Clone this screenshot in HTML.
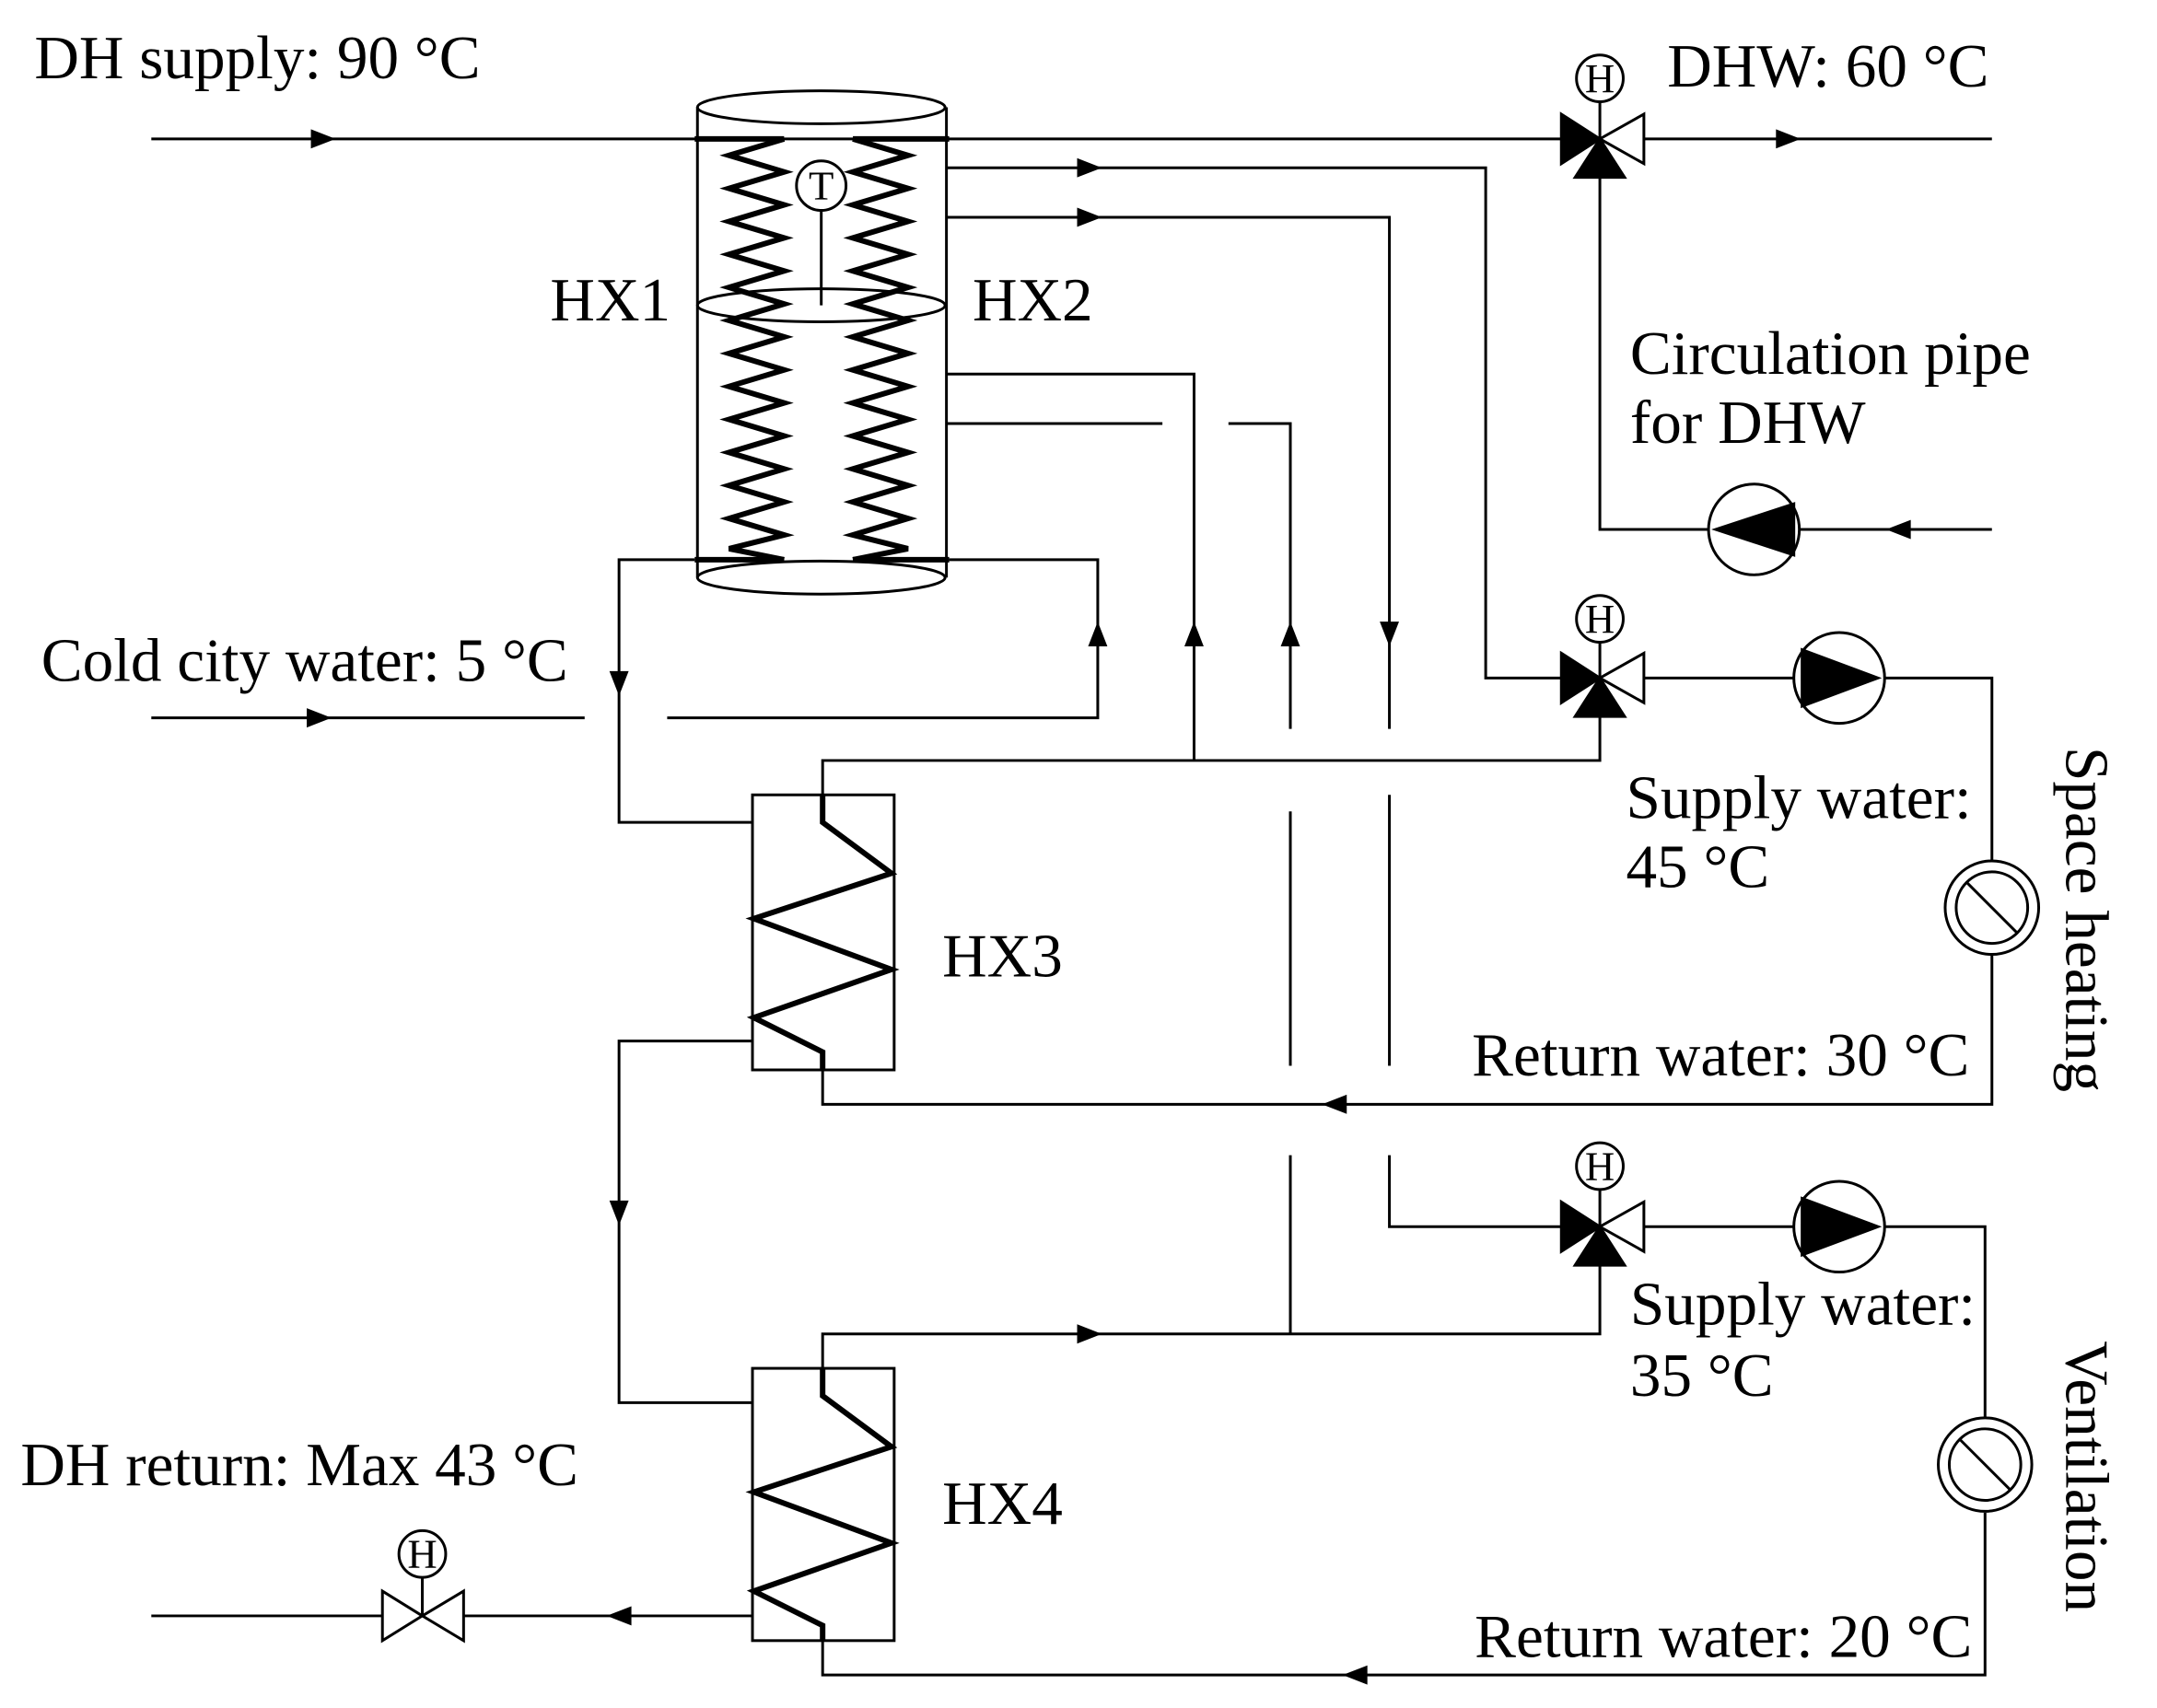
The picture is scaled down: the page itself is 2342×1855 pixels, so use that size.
<!DOCTYPE html>
<html><head><meta charset="utf-8"><style>
html,body{margin:0;padding:0;background:#fff;}
svg{display:block;}
text{font-family:"Liberation Serif",serif;font-size:45px;fill:#000;}
text.s{font-size:30px;}
</style></head><body>
<svg width="2342" height="1855" viewBox="0 0 1568 1242" preserveAspectRatio="none" xmlns="http://www.w3.org/2000/svg">
<defs>
<path id="ar" d="M-9,-7 L9,0 L-9,7 Z" fill="#000"/>
</defs>
<g stroke="#000" stroke-width="2" fill="none">
<line x1="110" y1="101" x2="1135" y2="101"/>
<line x1="1195" y1="101" x2="1448" y2="101"/>
<ellipse cx="597" cy="78" rx="90" ry="12"/>
<line x1="507" y1="78" x2="507" y2="420"/>
<line x1="688" y1="78" x2="688" y2="420"/>
<ellipse cx="597" cy="420" rx="90" ry="12"/>
<ellipse cx="597" cy="222" rx="90" ry="12"/>
<path stroke-width="4" d="M505,101 H570 M620,101 H690 M505,407 H570 M620,407 H690"/>
<path stroke-width="4" d="M570,101 L530,113 L570,125 L530,137 L570,149 L530,161 L570,173 L530,185 L570,197 L530,209 L570,221 L530,233 L570,245 L530,257 L570,269 L530,281 L570,293 L530,305 L570,317 L530,329 L570,341 L530,353 L570,365 L530,377 L570,389 L530,399 L570,407"/>
<path stroke-width="4" d="M620,101 L660,113 L620,125 L660,137 L620,149 L660,161 L620,173 L660,185 L620,197 L660,209 L620,221 L660,233 L620,245 L660,257 L620,269 L660,281 L620,293 L660,305 L620,317 L660,329 L620,341 L660,353 L620,365 L660,377 L620,389 L660,399 L620,407"/>
<circle cx="597" cy="135" r="18" fill="#fff"/>
<line x1="597" y1="153" x2="597" y2="222"/>
<polyline points="688,122 1080,122 1080,493 1135,493"/>
<polyline points="688,158 1010,158 1010,530"/>
<line x1="1010" y1="578" x2="1010" y2="775"/>
<polyline points="1010,840 1010,892 1135,892"/>
<polyline points="688,272 868,272 868,553"/>
<polyline points="598,578 598,553 1163,553 1163,512"/>
<line x1="688" y1="308" x2="845" y2="308"/>
<polyline points="893,308 938,308 938,530"/>
<line x1="938" y1="590" x2="938" y2="775"/>
<polyline points="938,840 938,970"/>
<polyline points="598,995 598,970 1163,970 1163,912"/>
<polyline points="505,407 450,407 450,598 547,598"/>
<polyline points="690,407 798,407 798,522 485,522"/>
<line x1="110" y1="522" x2="425" y2="522"/>
<rect x="547" y="578" width="103" height="200"/>
<path stroke-width="4" d="M598,578 L598,598 L648,635 L548,668 L648,705 L548,740 L598,765 L598,778"/>
<polyline points="598,778 598,803 1448,803 1448,695"/>
<polyline points="1448,626 1448,493 1370,493"/>
<line x1="1304" y1="493" x2="1195" y2="493"/>
<circle cx="1448" cy="660" r="34"/><circle cx="1448" cy="660" r="26"/>
<line x1="1430" y1="642" x2="1466" y2="678"/>
<polyline points="547,757 450,757 450,1020 547,1020"/>
<rect x="547" y="995" width="103" height="198"/>
<path stroke-width="4" d="M598,995 L598,1015 L648,1052 L548,1085 L648,1122 L548,1157 L598,1182 L598,1193"/>
<polyline points="598,1193 598,1218 1443,1218 1443,1100"/>
<polyline points="1443,1031 1443,892 1370,892"/>
<line x1="1304" y1="892" x2="1195" y2="892"/>
<circle cx="1443" cy="1065" r="34"/><circle cx="1443" cy="1065" r="26"/>
<line x1="1425" y1="1047" x2="1461" y2="1083"/>
<line x1="547" y1="1175" x2="337" y2="1175"/>
<line x1="278" y1="1175" x2="110" y2="1175"/>
<polyline points="1163,120 1163,385 1242,385"/>
<line x1="1308" y1="385" x2="1448" y2="385"/>
<circle cx="1275" cy="385" r="33"/>
<circle cx="1337" cy="493" r="33"/>
<circle cx="1337" cy="892" r="33"/>
<circle cx="1163" cy="57" r="17"/><line x1="1163" y1="74" x2="1163" y2="101"/>
<circle cx="1163" cy="450" r="17"/><line x1="1163" y1="467" x2="1163" y2="493"/>
<circle cx="1163" cy="848" r="17"/><line x1="1163" y1="865" x2="1163" y2="892"/>
<circle cx="307" cy="1130" r="17"/><line x1="307" y1="1147" x2="307" y2="1175"/>
</g>
<path d="M1244,385 L1305,365 L1305,405 Z"/>
<path d="M1368,493 L1309,471 L1309,515 Z"/>
<path d="M1368,892 L1309,870 L1309,914 Z"/>
<g stroke="#000" stroke-width="2">
<path d="M1135,83 L1163,101 L1135,119 Z" fill="#000"/><path d="M1195,83 L1163,101 L1195,119 Z" fill="#fff"/><path d="M1145,129 L1163,101 L1181,129 Z" fill="#000"/>
<path d="M1135,475 L1163,493 L1135,511 Z" fill="#000"/><path d="M1195,475 L1163,493 L1195,511 Z" fill="#fff"/><path d="M1145,521 L1163,493 L1181,521 Z" fill="#000"/>
<path d="M1135,874 L1163,892 L1135,910 Z" fill="#000"/><path d="M1195,874 L1163,892 L1195,910 Z" fill="#fff"/><path d="M1145,920 L1163,892 L1181,920 Z" fill="#000"/>
<path d="M278,1157 L307,1175 L278,1193 Z" fill="#fff"/><path d="M337,1157 L307,1175 L337,1193 Z" fill="#fff"/>
</g>
<use href="#ar" transform="translate(235,101)"/>
<use href="#ar" transform="translate(1300,101)"/>
<use href="#ar" transform="translate(792,122)"/>
<use href="#ar" transform="translate(792,158)"/>
<use href="#ar" transform="translate(1380,385) rotate(180)"/>
<use href="#ar" transform="translate(232,522)"/>
<use href="#ar" transform="translate(450,497) rotate(90)"/>
<use href="#ar" transform="translate(798,461) rotate(-90)"/>
<use href="#ar" transform="translate(868,461) rotate(-90)"/>
<use href="#ar" transform="translate(938,461) rotate(-90)"/>
<use href="#ar" transform="translate(1010,461) rotate(90)"/>
<use href="#ar" transform="translate(970,803) rotate(180)"/>
<use href="#ar" transform="translate(450,882) rotate(90)"/>
<use href="#ar" transform="translate(792,970)"/>
<use href="#ar" transform="translate(985,1218) rotate(180)"/>
<use href="#ar" transform="translate(450,1175) rotate(180)"/>
<g text-anchor="middle">
<text class="s" x="597" y="145">T</text>
<text class="s" x="1163" y="67">H</text>
<text class="s" x="1163" y="460">H</text>
<text class="s" x="1163" y="858">H</text>
<text class="s" x="307" y="1140">H</text>
</g>
<text x="25" y="57">DH supply: 90 °C</text>
<text x="1212" y="63">DHW: 60 °C</text>
<text x="400" y="233">HX1</text>
<text x="707" y="233">HX2</text>
<text x="1185" y="272">Circulation pipe</text>
<text x="1185" y="322">for DHW</text>
<text x="30" y="495">Cold city water: 5 °C</text>
<text x="1182" y="595">Supply water:</text>
<text x="1182" y="645">45 °C</text>
<text x="685" y="710">HX3</text>
<text x="1070" y="782">Return water: 30 °C</text>
<text transform="translate(1502,543) rotate(90)">Space heating</text>
<text x="1185" y="963">Supply water:</text>
<text x="1185" y="1015">35 °C</text>
<text transform="translate(1502,975) rotate(90)">Ventilation</text>
<text x="15" y="1080">DH return: Max 43 °C</text>
<text x="685" y="1108">HX4</text>
<text x="1072" y="1205">Return water: 20 °C</text>
</svg>
</body></html>
